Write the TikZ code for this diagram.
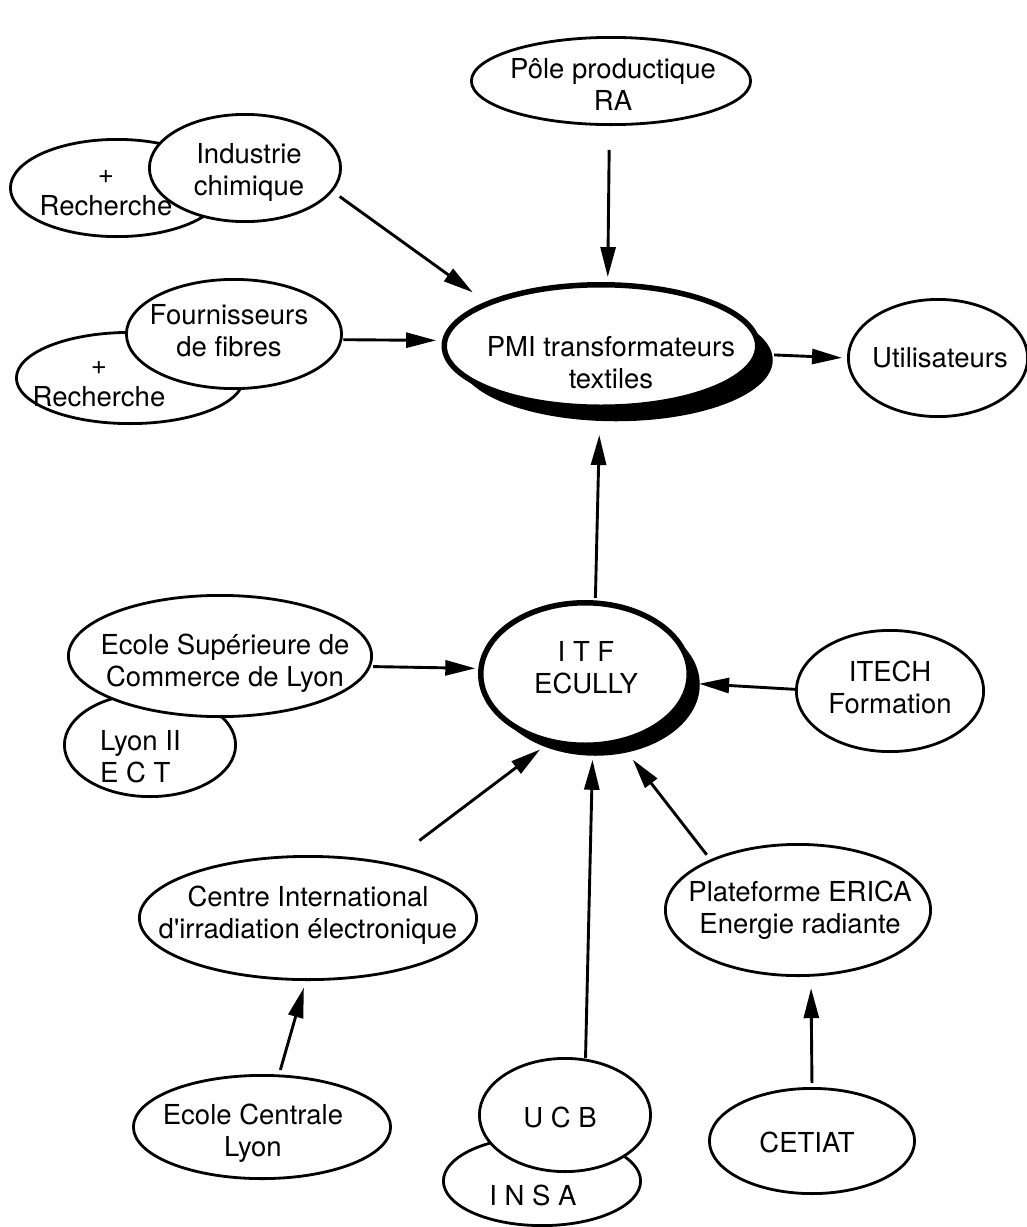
\documentclass[tikz,border=0pt]{standalone}
\usepackage{fontspec}
\setmainfont{TeX Gyre Heros}
\usetikzlibrary{arrows.meta,shapes.geometric,shadows}
\begin{document}
\begin{tikzpicture}[x=1pt,y=-1pt,
  ell/.style={ellipse,draw,line width=2.8pt,fill=white,inner sep=0pt},
  bigell/.style={ellipse,draw,line width=5.5pt,fill=white,inner sep=0pt},
  lbl/.style={font=\fontsize{27.5}{32}\selectfont,align=center,inner sep=0pt},
  arr/.style={line width=2.9pt,-{Triangle[length=30pt,width=15pt]}},
]
\fill[white] (0,0) rectangle (1027,1227);
\useasboundingbox (0,0) rectangle (1027,1227);

% back ellipses
\node[ell,minimum width=213.2pt,minimum height=97.2pt] (rech1) at (117,188) {};
\node[ell,minimum width=227.2pt,minimum height=91.2pt] (rech2) at (130,378) {};
\node[ell,minimum width=171.2pt,minimum height=103.2pt] (lyon2) at (150,745) {};
\node[ell,minimum width=197.2pt,minimum height=89.2pt] (insa) at (542,1181) {};

% front ellipses
\node[ell,minimum width=279.2pt,minimum height=87.2pt] (pole) at (611,81) {};
\node[ell,minimum width=191.2pt,minimum height=107.2pt] (ind) at (245,168) {};
\node[ell,minimum width=215.2pt,minimum height=109.2pt] (four) at (234,334) {};
\node[bigell,minimum width=313.5pt,minimum height=122.5pt,
      drop shadow={shadow xshift=15pt,shadow yshift=-14pt,opacity=1,fill=black}] (pmi) at (601,346) {};
\node[ell,minimum width=179.2pt,minimum height=117.2pt] (util) at (938,358) {};
\node[ell,minimum width=303.2pt,minimum height=121.2pt] (esc) at (220,656) {};
\node[bigell,minimum width=208.5pt,minimum height=142.5pt,
      drop shadow={shadow xshift=10.5pt,shadow yshift=-10.5pt,opacity=1,fill=black}] (itf) at (585,674) {};
\node[ell,minimum width=187.2pt,minimum height=121.2pt] (itech) at (890,691) {};
\node[ell,minimum width=337.2pt,minimum height=123.2pt] (cir) at (308,918) {};
\node[ell,minimum width=265.2pt,minimum height=131.2pt] (erica) at (798,910) {};
\node[ell,minimum width=257.2pt,minimum height=103.2pt] (ecl) at (262,1127) {};
\node[ell,minimum width=171.2pt,minimum height=113.2pt] (ucb) at (565,1115) {};
\node[ell,minimum width=205.2pt,minimum height=105.2pt] (cetiat) at (812,1141) {};

% texts
\node[lbl] (tpole) at (613,84) {Pôle productique\\RA};
\node[lbl] (tind) at (249,172) {Industrie\\chimique};
\node[lbl] (trech1) at (106,193) {+\\Recherche};
\node[lbl] (tfour) at (229,331) {Fournisseurs\\de fibres};
\node[lbl] (trech2) at (99,384) {+\\Recherche};
\node[lbl] (tpmi) at (611,363) {PMI transformateurs\\textiles};
\node[lbl] (tutil) at (940,358) {Utilisateurs};
\node[lbl] (tesc) at (225,663) {Ecole Supérieure de\\Commerce de Lyon};
\node[lbl,align=left,anchor=west] (tlyon) at (100,757) {Lyon II\\E C T};
\node[lbl] (titf) at (586,668) {I T F\\ECULLY};
\node[lbl] (titech) at (890,687) {ITECH\\Formation};
\node[lbl] (tcir) at (308,915) {Centre International\\d\textquotesingle irradiation électronique};
\node[lbl] (terica) at (800,910) {Plateforme ERICA\\Energie radiante};
\node[lbl] (tecl) at (253,1133) {Ecole Centrale\\Lyon};
\node[lbl] (tucb) at (560,1117) {U C B};
\node[lbl] (tinsa) at (533,1195) {I N S A};
\node[lbl] (tcetiat) at (807,1142) {CETIAT};

% connectors
\draw[arr,shorten <=24pt,shorten >=5pt] (pole.-92.5) -- (pmi.84.2);
\draw[arr,shorten <=8.6pt,shorten >=16pt] (ind.-15.9) -- (pmi.159.6);
\draw[arr,shorten <=1pt,shorten >=6pt] (four.-3.7) -- (pmi.178.3);
\draw[arr,shorten <=15pt,shorten >=5pt] (pmi.-3.9) -- (util.180);
\draw[arr,shorten <=2.4pt,shorten >=25pt] (itf.82.5) -- (pmi.-91.3);
\draw[arr,shorten <=2.4pt,shorten >=3pt] (esc.-4.1) -- (itf.177.4);
\draw[arr,shorten >=8pt] (itech.179.4) -- (itf.-5.5);
\draw[arr,shorten <=37pt,shorten >=10pt] (cir.34.2) -- (itf.-118.9);
\draw[arr,shorten <=0.6pt,shorten >=12pt] (ucb.70.7) -- (itf.-84);
\draw[arr,shorten <=5.8pt,shorten >=20pt] (erica.150.6) -- (itf.-63.4);
\draw[arr,shorten <=4.7pt,shorten >=7pt] (ecl.72.5) -- (cir.-92.5);
\draw[arr,shorten <=4pt,shorten >=11.5pt] (cetiat.90) -- (erica.-79.1);
\end{tikzpicture}
\end{document}
